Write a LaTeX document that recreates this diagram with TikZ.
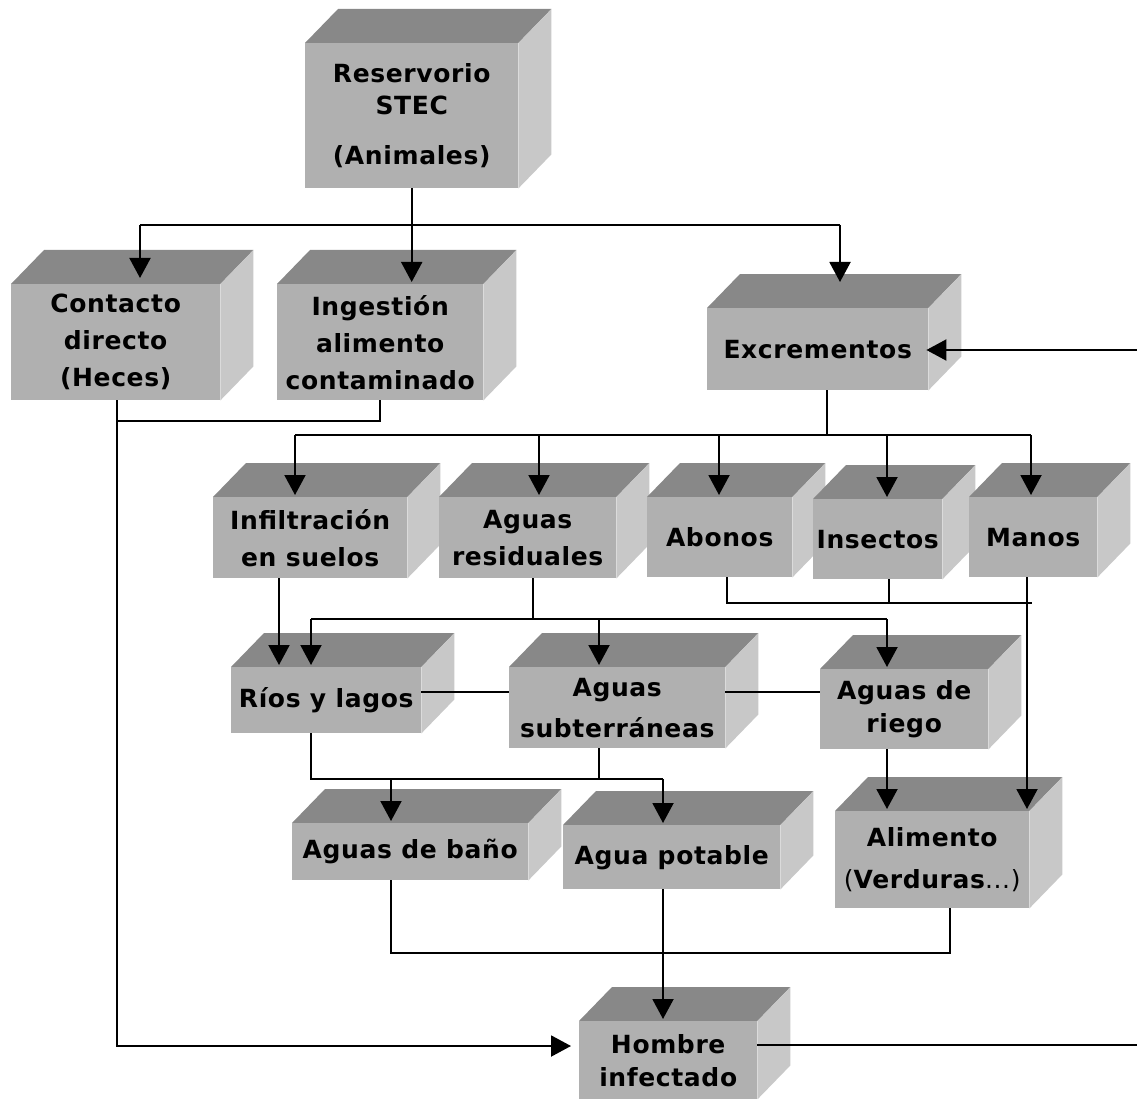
\documentclass[tikz,border=0pt]{standalone}
\usepackage{fontspec}
\newfontfamily\rotulo{DejaVu Sans}[LetterSpace=2.5]
\usetikzlibrary{arrows.meta,backgrounds}
\definecolor{frente}{HTML}{B0B0B0}
\definecolor{tapa}{HTML}{888888}
\definecolor{lado}{HTML}{C8C8C8}

\begin{document}
\begin{tikzpicture}[x=1pt,y=-1pt,
  caja/.style={fill=frente,anchor=north west,inner sep=0pt,align=center,
    font=\rotulo\bfseries\fontsize{25}{37}\selectfont},
  linea/.style={line width=2pt},
  flecha/.style={linea,-{Triangle[length=20pt,width=21pt]},shorten >=2pt}]
\useasboundingbox (0,0) rectangle (1137,1099);

                \node[caja,minimum width=213pt,minimum height=145pt] (res) at (305,43) {Reservorio\\[-5pt]STEC\\[13pt](Animales)};
                \node[caja,minimum width=209pt,minimum height=116pt] (con) at (11,284) {Contacto\\directo\\(Heces)};
                \node[caja,minimum width=206pt,minimum height=116pt] (ing) at (277,284) {Ingestión\\alimento\\contaminado};
                \node[caja,minimum width=221pt,minimum height=82pt] (exc) at (707,308) {Excrementos};
                \node[caja,minimum width=194pt,minimum height=81pt] (inf) at (213,497) {Infiltración\\en suelos};
                \node[caja,minimum width=177pt,minimum height=81pt] (ares) at (439,497) {Aguas\\residuales};
                \node[caja,minimum width=145pt,minimum height=80pt] (abo) at (647,497) {Abonos};
                \node[caja,minimum width=129pt,minimum height=80pt] (ins) at (813,499) {Insectos};
                \node[caja,minimum width=128pt,minimum height=80pt] (man) at (969,497) {Manos};
                \node[caja,minimum width=190pt,minimum height=66pt] (rio) at (231,667) {Ríos y lagos};
                \node[caja,minimum width=216pt,minimum height=81pt] (asub) at (509,667) {Aguas\\[4pt]subterráneas};
                \node[caja,minimum width=168pt,minimum height=80pt] (arie) at (820,669) {Aguas de\\[-4pt]riego};
                \node[caja,minimum width=236pt,minimum height=57pt] (abano) at (292,823) {Aguas de baño};
                \node[caja,minimum width=217pt,minimum height=64pt] (apot) at (563,825) {Agua potable};
                \node[caja,minimum width=194pt,minimum height=97pt] (ali) at (835,811) {Alimento\\[5pt]{\mdseries(}Verduras{\mdseries...)}};
                \node[caja,minimum width=178pt,minimum height=78pt] (hom) at (579,1021) {Hombre\\[-4pt]infectado};

                % tapas y lados
                \begin{scope}[on background layer]
                \fill[white] (0,0) rectangle (1137,1099);
                \foreach \n in {res,con,ing,exc,inf,ares,abo,ins,man,rio,asub,arie,abano,apot,ali,hom}{
                        \fill[tapa] (\n.north west) -- ++(33pt,34pt) -- ([shift={(33pt,34pt)}]\n.north east) -- (\n.north east) -- cycle;
                        \fill[lado] (\n.north east) -- ++(33pt,34pt) -- ([shift={(33pt,34pt)}]\n.south east) -- (\n.south east) -- cycle;
                }
                \end{scope}

                % reservorio
                \coordinate (b1) at (140,225);
                \coordinate (b2) at (840,225);
                \draw[linea] (b1) to (b2);
                \draw[flecha,shorten >=6pt] (b1) to (b1 |- con.north);
                \draw[flecha] (res.south) to (res.south |- ing.north);
                \draw[flecha,shorten >=26pt] (b2) to (b2 |- exc.north);

                % contacto directo e ingestion
                \coordinate (c1) at (117,421);
                \coordinate (h1) at (0,1046);
                \draw[linea] (ing.south) -- (ing.south |- c1) -- (c1);
                \draw[flecha,shorten >=8pt] (c1 |- con.south) -- (c1 |- h1) -- (hom.west |- h1);

                % excrementos
                \coordinate (e1) at (827,435);
                \coordinate (e2) at (295,435);
                \coordinate (e3) at (1031,435);
                \draw[linea] (e1 |- exc.south) to (e1);
                \draw[linea] (e2) to (e3);
                \foreach \x/\n in {295/inf,539/ares,719/abo,887/ins,1031/man}
                        \draw[flecha] (\x,0 |- e1) to (\x,0 |- \n.north);

                % abonos, insectos, manos
                \coordinate (m1) at (727,603);
                \coordinate (m2) at (1032,603);
                \draw[linea] (m1 |- abo.south) -- (m1) -- (m2);
                \draw[linea] (889,0 |- ins.south) to (889,0 |- m1);
                \draw[flecha] (1027,0 |- man.south) to (1027,0 |- ali.north);

                \draw[flecha] (279,0 |- inf.south) to (279,0 |- rio.north);

                % aguas residuales
                \coordinate (r1) at (311,619);
                \coordinate (r2) at (887,619);
                \draw[linea] (533,0 |- ares.south) to (533,0 |- r1);
                \draw[linea] (r1) to (r2);
                \foreach \x/\n in {311/rio,599/asub,887/arie}
                        \draw[flecha] (\x,0 |- r1) to (\x,0 |- \n.north);

                \coordinate (k) at (0,692);
                \draw[linea] (rio.east |- k) to (asub.west |- k);
                \draw[linea] (asub.east |- k) to (arie.west |- k);

                % rios y subterraneas
                \coordinate (s1) at (311,779);
                \coordinate (s2) at (663,779);
                \draw[linea] (s1 |- rio.south) -- (s1) -- (s2);
                \draw[linea] (599,0 |- asub.south) to (599,0 |- s1);
                \draw[flecha] (391,0 |- s1) to (391,0 |- abano.north);
                \draw[flecha] (s2) to (s2 |- apot.north);

                \draw[flecha] (887,0 |- arie.south) to (887,0 |- ali.north);

                % hacia el hombre
                \coordinate (u1) at (391,953);
                \coordinate (u2) at (950,953);
                \draw[linea] (u1 |- abano.south) -- (u1) -- (u2) -- (u2 |- ali.south);
                \draw[flecha] (s2 |- apot.south) to (s2 |- hom.north);

                \coordinate (d1) at (1137,350);
                \coordinate (d2) at (1137,1045);
                \draw[flecha,shorten >=-2pt] (d1) to (exc.east |- d1);
                \draw[linea] (hom.east |- d2) to (d2);
\end{tikzpicture}
\end{document}
